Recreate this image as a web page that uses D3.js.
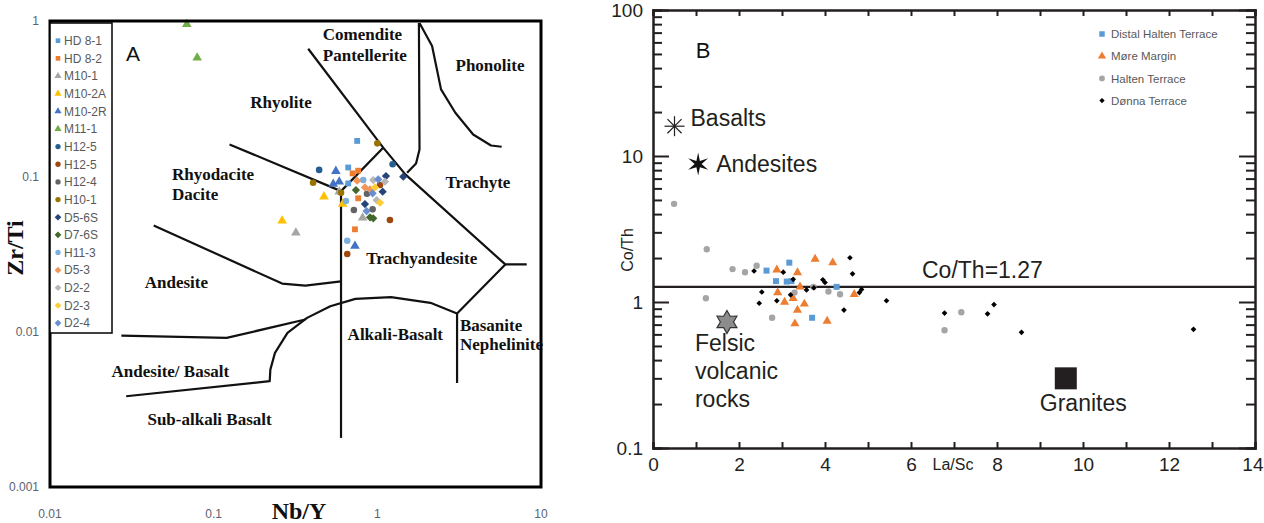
<!DOCTYPE html>
<html lang="en">
<head>
<meta charset="UTF-8">
<title>Zr/Ti vs Nb/Y and Co/Th vs La/Sc</title>
<script src="https://cdn.jsdelivr.net/npm/d3@7"></script>
<style>
  body { margin: 0; background: #fff; }
  .tickA { font-family: 'Liberation Sans', Arial, sans-serif; font-size: 12px; fill: #5a6270; }
  .field { font-family: 'Liberation Serif', 'Times New Roman', serif; font-weight: bold; font-size: 17px; fill: #111; }
  .legA { font-family: 'Liberation Sans', Arial, sans-serif; font-size: 12px; fill: #595959; }
  .legB { font-family: 'Liberation Sans', Arial, sans-serif; font-size: 11.5px; fill: #595959; }
  .rockLab { font-family: 'Liberation Sans', Arial, sans-serif; font-size: 23px; fill: #231f20; }
</style>
</head>
<body>
<div id="chart"></div>
<script>
// ---------- Panel A : Zr/Ti vs Nb/Y ----------
var sampleNames = ['HD 8-1', 'HD 8-2', 'M10-1', 'M10-2A', 'M10-2R', 'M11-1', 'H12-5', 'H12-5', 'H12-4',
  'H10-1', 'D5-6S', 'D7-6S', 'H11-3', 'D5-3', 'D2-2', 'D2-3', 'D2-4'];
var sampleShapes = ['square', 'square', 'triangle', 'triangle', 'triangle', 'triangle', 'circle', 'circle', 'circle',
  'circle', 'diamond', 'diamond', 'circle', 'diamond', 'diamond', 'diamond', 'diamond'];
var sampleColors = ['#5b9bd5', '#ed7d31', '#a5a5a5', '#ffc000', '#4472c4', '#70ad47', '#255e91', '#9e480e', '#636363',
  '#997300', '#264478', '#43682b', '#7cafdd', '#f1975a', '#b7b7b7', '#ffcd33', '#698ed0'];
// [Nb/Y, Zr/Ti] per sample
var samplePoints = [
  [[0.753, 0.169], [0.664, 0.114], [0.664, 0.090]],
  [[0.706, 0.1045], [0.764, 0.1087], [0.764, 0.0722], [0.730, 0.0456]],
  [[0.318, 0.0433], [0.813, 0.0541], [0.585, 0.0796]],
  [[0.262, 0.0518], [0.472, 0.074], [0.614, 0.0663]],
  [[0.558, 0.108], [0.538, 0.0892], [0.585, 0.0923], [0.730, 0.0356]],
  [[0.0685, 0.952], [0.0793, 0.580]],
  [[0.441, 0.110], [1.24, 0.1195]],
  [[1.194, 0.0523], [0.655, 0.0316], [1.038, 0.0879]],
  [[0.719, 0.0607], [0.936, 0.0613], [0.865, 0.0773]],
  [[1.0, 0.163], [0.405, 0.091], [0.600, 0.0784]],
  [[1.129, 0.1004], [1.44, 0.0994], [1.078, 0.0796], [0.840, 0.0663]],
  [[0.740, 0.0816], [0.902, 0.0545], [0.944, 0.0537]],
  [[0.643, 0.0693], [0.655, 0.0385], [0.820, 0.0947]],
  [[0.753, 0.0937], [0.840, 0.0849], [0.902, 0.0825]],
  [[0.944, 0.0947], [0.99, 0.0704], [1.113, 0.0923]],
  [[0.967, 0.0849], [1.038, 0.0676]],
  [[1.013, 0.0957], [0.86, 0.0598], [0.936, 0.0777]]
];

// field boundaries, [Nb/Y, Zr/Ti]
var fieldLines = [
  [[0.378, 0.663], [1.086, 0.153], [1.483, 0.103], [6.05, 0.0271], [8.18, 0.0271]],
  [[6.05, 0.0271], [3.07, 0.0131], [3.07, 0.00468]],
  [[3.07, 0.0131], [2.11, 0.01533], [1.213, 0.01667], [0.734, 0.01626], [0.516, 0.01459], [0.372, 0.01227],
    [0.2825, 0.00982], [0.2369, 0.0073], [0.222, 0.0057], [0.22, 0.0048], [0.0292, 0.00384]],
  [[0.0273, 0.00944], [0.120, 0.00912], [0.363, 0.01197]],
  [[0.600, 0.0803], [0.600, 0.00207]],
  [[0.043, 0.0483], [0.262, 0.0204], [0.363, 0.0198], [0.600, 0.0211]],
  [[0.125, 0.1605], [0.600, 0.0803], [1.086, 0.153]],
  [[1.795, 0.97], [1.81, 0.149], [1.724, 0.121], [1.52, 0.1054]],
  [[1.81, 0.97], [2.16, 0.69], [2.45, 0.363], [2.996, 0.2567], [3.85, 0.186], [4.95, 0.158], [5.75, 0.155]]
];
var fieldNames = ['Comendite', 'Pantellerite', 'Phonolite', 'Rhyolite', 'Rhyodacite', 'Dacite', 'Trachyte',
  'Trachyandesite', 'Andesite', 'Alkali-Basalt', 'Basanite', 'Nephelinite', 'Andesite/ Basalt', 'Sub-alkali Basalt'];
var fieldAt = [[0.811, 0.821], [0.839, 0.601], [4.88, 0.519], [0.258, 0.302], [0.0556, 0.104], [0.0556, 0.0766],
  [4.12, 0.0919], [1.867, 0.0297], [0.0592, 0.0209], [1.288, 0.00969], [3.196, 0.011], [3.196, 0.00836],
  [0.0544, 0.00557], [0.0944, 0.00275]];
var fieldAnchor = ['middle', 'middle', 'middle', 'middle', 'start', 'start', 'middle', 'middle', 'middle', 'middle',
  'start', 'start', 'middle', 'middle'];
var ticksA_x = [0.01, 0.1, 1, 10];
var ticksA_y = [0.001, 0.01, 0.1, 1];

// ---------- Panel B : Co/Th vs La/Sc ----------
var groupNames = ['Distal Halten Terrace', 'Møre Margin', 'Halten Terrace', 'Dønna Terrace'];
var groupShapes = ['square', 'triangle', 'circle', 'diamond'];
var groupColors = ['#5b9bd5', '#ed7d31', '#a5a5a5', '#000000'];
// [La/Sc, Co/Th]
var distalHalten = [[2.64, 1.64], [3.17, 1.86], [2.86, 1.39], [3.11, 1.38], [3.22, 1.39], [4.27, 1.27], [3.70, 0.78]];
var moreMargin = [[2.88, 1.66], [3.36, 1.59], [3.77, 1.97], [4.18, 1.86], [3.42, 1.27], [2.90, 1.16], [3.06, 1.00],
  [3.26, 1.06], [3.52, 0.97], [3.36, 0.88], [3.30, 0.71], [4.05, 0.74], [4.68, 1.13]];
var haltenTerrace = [[0.49, 4.7], [1.25, 2.30], [1.85, 1.68], [2.14, 1.60], [2.41, 1.77], [1.23, 1.06], [2.77, 0.78],
  [3.29, 1.16], [3.73, 1.27], [4.08, 1.18], [4.35, 1.13], [7.17, 0.85], [6.78, 0.64]];
var donnaTerrace = [[2.35, 1.63], [3.03, 1.60], [3.26, 1.43], [4.58, 2.01], [4.64, 1.56], [3.95, 1.42], [4.0, 1.36],
  [2.53, 1.17], [2.47, 0.98], [2.88, 1.02], [3.20, 1.12], [3.57, 1.21], [3.74, 1.25], [4.44, 0.88], [4.80, 1.16],
  [4.85, 1.22], [5.43, 1.02], [6.78, 0.84], [7.78, 0.83], [7.93, 0.96], [8.57, 0.62], [12.57, 0.65]];
var groupPoints = [distalHalten, moreMargin, haltenTerrace, donnaTerrace];

var rockNames = ['Basalts', 'Andesites', 'Felsic volcanic rocks', 'Granites'];
var rockPoints = [[0.5, 16], [1.05, 8.8], [1.72, 0.73], [9.6, 0.30]];
var coThRatio = 1.27;
var ticksB_x = d3.range(0, 15, 1);
var ticksB_y = [0.1, 1, 10, 100];

// ---------- drawing ----------
var W = 1264, H = 523;
var svg = d3.select('#chart').append('svg').attr('width', W).attr('height', H);

function markerPath(shape, size) {
  if (shape === 'square' || shape === 'diamond') return d3.symbol(d3.symbolSquare, size)();
  if (shape === 'triangle') return d3.symbol(d3.symbolTriangle, size)();
  return d3.symbol(d3.symbolCircle, size)();
}
function markerRot(shape) { return shape === 'diamond' ? ' rotate(45)' : ''; }

// ===== Panel A =====
var xA = d3.scaleLog().domain([0.01, 10]).range([50, 541]);
var yA = d3.scaleLog().domain([0.001, 1]).range([487, 21]);
var gA = svg.append('g');

var lineA = d3.line().x(function (d) { return xA(d[0]); }).y(function (d) { return yA(d[1]); });
gA.selectAll('path.bound').data(fieldLines).enter().append('path')
  .attr('class', 'bound').attr('d', lineA)
  .attr('fill', 'none').attr('stroke', '#111').attr('stroke-width', 2.2).attr('stroke-linejoin', 'round');

gA.selectAll('text.field').data(fieldNames).enter().append('text')
  .attr('class', 'field')
  .attr('x', function (d, i) { return xA(fieldAt[i][0]); })
  .attr('y', function (d, i) { return yA(fieldAt[i][1]); })
  .attr('dy', '0.35em')
  .attr('text-anchor', function (d, i) { return fieldAnchor[i]; })
  .text(function (d) { return d; });

samplePoints.forEach(function (pts, i) {
  gA.selectAll(null).data(pts).enter().append('path')
    .attr('d', markerPath(sampleShapes[i], sampleShapes[i] === 'triangle' ? 40 : 34))
    .attr('transform', function (d) { return 'translate(' + xA(d[0]) + ',' + yA(d[1]) + ')' + markerRot(sampleShapes[i]); })
    .attr('fill', sampleColors[i]);
});

// frame
gA.append('rect').attr('x', 50).attr('y', 21).attr('width', 491).attr('height', 466)
  .attr('fill', 'none').attr('stroke', '#000').attr('stroke-width', 3);

// tick labels
gA.selectAll('text.tx').data(ticksA_x).enter().append('text')
  .attr('class', 'tickA').attr('x', function (d) { return xA(d); }).attr('y', 514)
  .attr('dy', '0.35em').attr('text-anchor', 'middle').text(function (d) { return d; });
gA.selectAll('text.ty').data(ticksA_y).enter().append('text')
  .attr('class', 'tickA').attr('x', 39).attr('y', function (d) { return yA(d); })
  .attr('dy', '0.35em').attr('text-anchor', 'end').text(function (d) { return d; });

gA.append('text').attr('transform', 'translate(23,' + 248 + ') rotate(-90)')
  .attr('text-anchor', 'middle').attr('font-family', "'Liberation Serif', 'Times New Roman', serif")
  .attr('font-weight', 'bold').attr('font-size', 24).attr('fill', '#111').text('Zr/Ti');
gA.append('text').attr('x', 299).attr('y', 519)
  .attr('text-anchor', 'middle').attr('font-family', "'Liberation Serif', 'Times New Roman', serif")
  .attr('font-weight', 'bold').attr('font-size', 24).attr('fill', '#111').text('Nb/Y');
gA.append('text').attr('x', 133).attr('y', 61).attr('text-anchor', 'middle')
  .attr('font-family', "'Liberation Sans', Arial, sans-serif").attr('font-size', 21).attr('fill', '#111').text('A');

// legend A
var legA = gA.append('g');
legA.append('rect').attr('x', 50).attr('y', 23).attr('width', 62).attr('height', 310)
  .attr('fill', '#fff').attr('stroke', '#000').attr('stroke-width', 1.5);
var legItems = legA.selectAll('g.li').data(sampleNames).enter().append('g')
  .attr('transform', function (d, i) { return 'translate(0,' + (40.7 + i * 17.65) + ')'; });
legItems.append('path')
  .attr('d', function (d, i) { return markerPath(sampleShapes[i], 22); })
  .attr('transform', function (d, i) { return 'translate(58,0)' + markerRot(sampleShapes[i]); })
  .attr('fill', function (d, i) { return sampleColors[i]; });
legItems.append('text').attr('class', 'legA').attr('x', 64).attr('dy', '0.36em').text(function (d) { return d; });

// ===== Panel B =====
var xB = d3.scaleLinear().domain([0, 14]).range([653, 1255]);
var yB = d3.scaleLog().domain([0.1, 100]).range([448, 10]);
var gB = svg.append('g');

var allYTicks = [];
[0.1, 1, 10].forEach(function (b) { for (var k = 1; k < 10; k++) allYTicks.push(b * k); });
allYTicks.push(100);
function isMajor(v) { return ticksB_y.some(function (t) { return Math.abs(t - v) < 1e-9; }); }

var axL = gB.append('g').attr('transform', 'translate(653,0)')
  .call(d3.axisLeft(yB).tickValues(allYTicks).tickSize(-9).tickPadding(10)
    .tickFormat(function (d) { return isMajor(d) ? d : ''; }));
axL.selectAll('.tick line').attr('x2', function (d) { return isMajor(d) ? 16 : 9; });
var axR = gB.append('g').attr('transform', 'translate(1255,0)')
  .call(d3.axisRight(yB).tickValues(allYTicks).tickSize(-9).tickFormat(''));
axR.selectAll('.tick line').attr('x2', function (d) { return isMajor(d) ? -16 : -9; });
var axB = gB.append('g').attr('transform', 'translate(0,448)')
  .call(d3.axisBottom(xB).tickValues(ticksB_x).tickSize(-6).tickPadding(10)
    .tickFormat(function (d) { return d % 2 === 0 ? d : ''; }));
// last label sits against the window edge
axB.selectAll('.tick text').filter(function (d) { return d === 14; }).attr('text-anchor', 'end').attr('x', 8);
gB.append('g').attr('transform', 'translate(0,10)')
  .call(d3.axisTop(xB).tickValues(ticksB_x).tickSize(-6).tickFormat(''));
gB.selectAll('.domain').attr('stroke', '#231f20').attr('stroke-width', 2.5);
gB.selectAll('.tick line').attr('stroke', '#231f20').attr('stroke-width', 2);
gB.selectAll('.tick text').attr('font-family', "'Liberation Sans', Arial, sans-serif")
  .attr('font-size', 19).attr('fill', '#231f20');

// Co/Th line
gB.append('line').attr('x1', xB(0)).attr('x2', xB(14)).attr('y1', yB(coThRatio)).attr('y2', yB(coThRatio))
  .attr('stroke', '#231f20').attr('stroke-width', 2.2);
gB.append('text').attr('class', 'rockLab').attr('x', 922).attr('y', yB(coThRatio) - 17).attr('dy', '0.35em')
  .text('Co/Th=' + coThRatio);

// samples
groupPoints.forEach(function (pts, i) {
  var sz = [36, 36, 32, 16][i];
  gB.selectAll(null).data(pts).enter().append('path')
    .attr('d', markerPath(groupShapes[i], sz))
    .attr('transform', function (d) { return 'translate(' + xB(d[0]) + ',' + yB(d[1]) + ')' + markerRot(groupShapes[i]); })
    .attr('fill', groupColors[i]);
});

// reference rocks
function starPath(n, rO, rI) {
  var p = [];
  for (var k = 0; k < 2 * n; k++) {
    var a = Math.PI * k / n - Math.PI / 2, r = k % 2 ? rI : rO;
    p.push([r * Math.cos(a), r * Math.sin(a)]);
  }
  return 'M' + p.join('L') + 'Z';
}
var rp = rockPoints;
// basalts asterisk
var ast = gB.append('g').attr('transform', 'translate(' + xB(rp[0][0]) + ',' + yB(rp[0][1]) + ')');
[0, 45, 90, 135].forEach(function (a) {
  ast.append('line').attr('x1', -10).attr('x2', 10).attr('transform', 'rotate(' + a + ')')
    .attr('stroke', '#231f20').attr('stroke-width', 1.2);
});
gB.append('path').attr('d', starPath(6, 11.5, 3.5))
  .attr('transform', 'translate(' + xB(rp[1][0]) + ',' + yB(rp[1][1]) + ')').attr('fill', '#111');
gB.append('path').attr('d', starPath(6, 11.5, 6.6))
  .attr('transform', 'translate(' + xB(rp[2][0]) + ',' + yB(rp[2][1]) + ')')
  .attr('fill', '#8c8c8c').attr('stroke', '#333').attr('stroke-width', 1.2);
gB.append('rect').attr('x', xB(rp[3][0]) - 11).attr('y', yB(rp[3][1]) - 11).attr('width', 22).attr('height', 22)
  .attr('fill', '#231f20');

gB.append('text').attr('class', 'rockLab').attr('x', xB(rp[0][0]) + 16).attr('y', yB(rp[0][1]) - 8).attr('dy', '0.35em').text(rockNames[0]);
gB.append('text').attr('class', 'rockLab').attr('x', xB(rp[1][0]) + 18).attr('y', yB(rp[1][1])).attr('dy', '0.35em').text(rockNames[1]);
var fel = gB.append('text').attr('class', 'rockLab').attr('x', xB(rp[2][0]) - 32).attr('y', yB(rp[2][1]) + 21).attr('dy', '0.35em');
['Felsic', 'volcanic', 'rocks'].forEach(function (w, i) {
  fel.append('tspan').attr('x', xB(rp[2][0]) - 32).attr('dy', i === 0 ? '0.35em' : '1.22em').text(w);
});
gB.append('text').attr('class', 'rockLab').attr('x', xB(rp[3][0]) - 26).attr('y', yB(rp[3][1]) + 25).attr('dy', '0.35em').text(rockNames[3]);

gB.append('text').attr('x', 703).attr('y', 50).attr('dy', '0.35em').attr('text-anchor', 'middle')
  .attr('font-family', "'Liberation Sans', Arial, sans-serif").attr('font-size', 22).attr('fill', '#111').text('B');
gB.append('text').attr('x', 953).attr('y', 464).attr('dy', '0.35em').attr('text-anchor', 'middle')
  .attr('font-family', "'Liberation Sans', Arial, sans-serif").attr('font-size', 16).attr('fill', '#231f20').text('La/Sc');
gB.append('text').attr('transform', 'translate(627,250) rotate(-90)').attr('text-anchor', 'middle').attr('dy', '0.35em')
  .attr('font-family', "'Liberation Sans', Arial, sans-serif").attr('font-size', 16).attr('fill', '#231f20').text('Co/Th');

// legend B
var legB = gB.selectAll('g.lb').data(groupNames).enter().append('g')
  .attr('transform', function (d, i) { return 'translate(1102,' + (34 + i * 22.2) + ')'; });
legB.append('path')
  .attr('d', function (d, i) { return markerPath(groupShapes[i], [30, 30, 26, 14][i]); })
  .attr('transform', function (d, i) { return markerRot(groupShapes[i]); })
  .attr('fill', function (d, i) { return groupColors[i]; });
legB.append('text').attr('class', 'legB').attr('x', 9).attr('dy', '0.36em').text(function (d) { return d; });
</script>
</body>
</html>
